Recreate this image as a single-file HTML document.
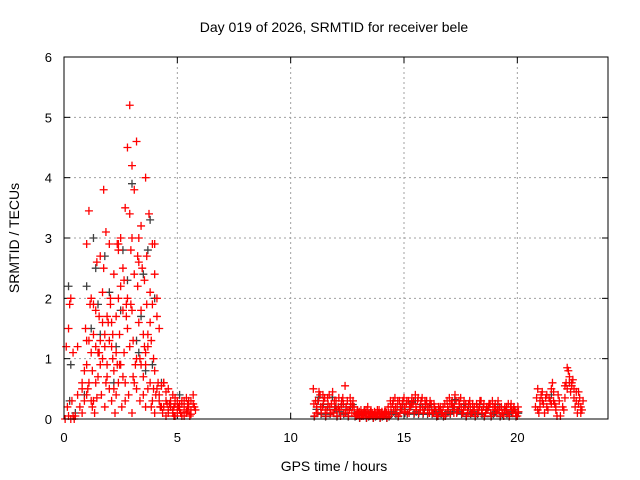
<!DOCTYPE html>
<html><head><meta charset="utf-8"><style>
html,body{margin:0;padding:0;background:#fff}
svg{display:block;font-family:"Liberation Sans",sans-serif}
</style></head><body>
<svg id="chart" width="640" height="480" viewBox="0 0 640 480">
<text x="334" y="32" text-anchor="middle" font-size="14">Day 019 of 2026, SRMTID for receiver bele</text>
<text x="334" y="471" text-anchor="middle" font-size="14">GPS time / hours</text>
<text transform="translate(19,238) rotate(-90)" text-anchor="middle" font-size="14">SRMTID / TECUs</text>
<g id="grid"></g>
<g id="ticks"></g>
<g id="blackPts"></g>
<g id="redPts"></g>
<rect x="64" y="57" width="544" height="362" fill="none" stroke="#000" stroke-width="1"/>
</svg>
<script>
const xTicks=[0,5,10,15,20];
const yTicks=[0,1,2,3,4,5,6];
const redEarlyT=[0.1,0.15,0.2,0.25,0.3,0.35,0.4,0.5,0.6,0.7,0.8,0.9,0.95,1.0,1.05,1.1,1.15,1.2,1.25,1.3,1.35,1.4,1.45,1.5,1.55,1.6,1.65,1.7,1.75,1.8,1.85,1.9,1.95,2.0,2.05,2.1,2.15,2.2,2.25,2.3,2.35,2.4,2.45,2.5,2.55,2.6,2.65,2.7,2.75,2.8,2.85,2.9,2.95,3.0,3.05,3.1,3.15,3.2,3.25,3.3,3.35,3.4,3.45,3.5,3.55,3.6,3.65,3.7,3.75,3.8,3.85,3.9,3.95,4.0,4.05,4.1,4.15,4.2,4.3,4.4,4.5,4.6,4.7,4.8,4.9,5.0,5.1,5.2,5.3,5.4,5.5,5.6,5.7,5.8,
0.2,0.4,0.6,0.8,1.0,1.2,1.4,1.6,1.8,2.0,2.2,2.4,2.6,2.8,3.0,3.2,3.4,3.6,3.8,4.0,4.2,4.4,4.6,4.8,5.0,5.2,5.4,5.6,1.3,1.7,2.1,2.5,2.9,3.3,3.7,4.1,2.3,2.7,3.1,3.5,3.9,4.5,4.9,5.3,0.05,0.3,0.45,4.25,4.35,4.65,4.85,5.05,5.15,5.45,5.55,5.75,1.1,1.9,2.4,3.0,3.6,4.0];
const redEarlyV=[1.2,0.2,1.5,1.9,2.0,0.3,1.1,0.05,0.4,0.2,0.6,0.3,1.5,2.9,0.5,3.45,1.9,2.0,0.8,1.4,0.1,1.2,2.6,0.7,1.7,1.3,0.4,2.1,3.8,1.2,3.1,0.9,1.6,0.5,2.0,0.3,1.0,2.4,0.1,1.7,2.9,0.6,1.4,3.0,0.2,2.5,1.1,3.5,1.9,4.5,0.4,5.2,2.8,4.2,1.3,3.8,0.9,4.6,2.2,3.0,0.3,1.8,2.5,0.7,1.2,4.0,2.7,0.5,3.4,1.6,0.2,2.9,1.0,2.4,0.4,1.7,0.6,0.3,0.55,0.2,0.45,0.1,0.3,0.15,0.35,0.1,0.25,0.05,0.3,0.12,0.2,0.08,0.4,0.15,
0.05,0.05,1.2,0.1,0.9,0.3,0.6,2.7,0.2,1.3,0.8,2.0,0.7,1.5,0.1,1.0,3.2,0.9,2.1,0.8,1.5,0.6,0.5,0.4,0.3,0.25,0.35,0.3,1.9,1.0,1.6,2.2,3.4,2.6,1.4,2.0,0.4,0.3,0.6,0.4,0.3,0.05,0.05,0.05,0.0,0.0,0.0,0.2,0.1,0.25,0.05,0.2,0.1,0.15,0.05,0.2,0.6,1.7,2.9,3.0,1.1,2.9];
const redExtraT=[0.9,1.0,1.1,1.2,1.3,1.4,1.5,1.6,1.7,1.8,1.9,2.0,2.1,2.2,2.3,2.4,2.5,2.6,2.7,2.8,2.9,3.0,3.1,3.2,3.3,3.4,3.5,3.6,3.7,3.8,3.9,4.0,4.1,4.2,4.3,4.4,4.5,4.6,4.7,4.8,4.9,5.0,5.1,5.2,5.3,5.4,5.5,5.6,5.7,1.25,1.55,1.85,2.15,2.45,2.75,3.05,3.35,3.65,3.95,4.25,4.55,4.85,5.15,5.45,0.8,1.0,1.45,1.75,2.05,2.35,2.65,2.95,3.25,3.55,3.85];
const redExtraV=[0.8,0.4,1.3,1.1,0.3,1.8,1.1,0.9,1.6,1.4,0.7,2.9,1.2,0.5,1.1,2.8,0.9,1.8,0.6,2.0,1.2,1.8,2.4,0.5,1.6,0.9,1.4,0.2,1.2,0.6,1.9,0.1,0.5,0.4,0.2,0.6,0.3,0.15,0.2,0.1,0.25,0.2,0.15,0.3,0.2,0.1,0.3,0.15,0.25,0.2,1.1,0.6,1.4,0.9,1.7,0.7,1.0,1.9,0.5,0.2,0.25,0.2,0.1,0.25,0.5,1.3,0.35,2.5,1.9,0.9,2.3,1.9,2.7,2.3,1.3];
const bandT=[11.0,11.1,11.2,11.3,11.4,11.5,11.6,11.7,11.8,11.9,12.0,12.1,12.2,12.3,12.4,12.5,12.6,12.7,12.8,12.9,13.0,13.1,13.2,13.3,13.4,13.5,13.6,13.7,13.8,13.9,14.0,14.1,14.2,14.3,14.4,14.5,14.6,14.7,14.8,14.9,15.0,15.1,15.2,15.3,15.4,15.5,15.6,15.7,15.8,15.9,16.0,16.1,16.2,16.3,16.4,16.5,16.6,16.7,16.8,16.9,17.0,17.1,17.2,17.3,17.4,17.5,17.6,17.7,17.8,17.9,18.0,18.1,18.2,18.3,18.4,18.5,18.6,18.7,18.8,18.9,19.0,19.1,19.2,19.3,19.4,19.5,19.6,19.7,19.8,19.9,20.0];
const bandV1=[0.5,0.3,0.1,0.4,0.2,0.35,0.15,0.4,0.25,0.1,0.3,0.2,0.05,0.35,0.55,0.3,0.15,0.1,0.2,0.05,0.1,0.15,0.05,0.1,0.2,0.05,0.1,0.12,0.05,0.15,0.1,0.05,0.12,0.2,0.3,0.25,0.35,0.2,0.3,0.15,0.35,0.25,0.3,0.2,0.25,0.4,0.3,0.2,0.35,0.15,0.3,0.2,0.25,0.1,0.15,0.05,0.2,0.1,0.25,0.3,0.35,0.25,0.1,0.3,0.15,0.35,0.1,0.2,0.15,0.3,0.1,0.2,0.25,0.15,0.3,0.2,0.1,0.15,0.25,0.3,0.2,0.1,0.15,0.2,0.05,0.15,0.25,0.2,0.1,0.15,0.05];
const bandV2=[0.05,0.2,0.45,0.1,0.3,0.05,0.25,0.1,0.45,0.2,0.05,0.15,0.3,0.1,0.2,0.05,0.25,0.3,0.05,0.15,0.02,0.08,0.15,0.02,0.05,0.12,0.02,0.05,0.1,0.02,0.05,0.12,0.02,0.05,0.1,0.15,0.1,0.05,0.2,0.3,0.12,0.1,0.2,0.35,0.1,0.15,0.1,0.3,0.1,0.25,0.1,0.3,0.1,0.2,0.05,0.15,0.1,0.05,0.1,0.15,0.1,0.2,0.4,0.15,0.25,0.1,0.3,0.05,0.25,0.1,0.15,0.05,0.1,0.3,0.1,0.05,0.2,0.25,0.05,0.1,0.15,0.3,0.05,0.1,0.2,0.1,0.05,0.15,0.2,0.05,0.12];
const bandV3=[0.25,0.1,0.3,0.2,0.4,0.15,0.35,0.2,0.1,0.3,0.15,0.35,0.2,0.25,0.1,0.15,0.35,0.2,0.1,0.08,0.12,0.05,0.1,0.15,0.08,0.12,0.05,0.1,0.15,0.08,0.12,0.08,0.1,0.1,0.2,0.3,0.2,0.3,0.1,0.25,0.2,0.3,0.1,0.25,0.3,0.2,0.35,0.15,0.2,0.3,0.2,0.1,0.15,0.25,0.1,0.2,0.15,0.2,0.05,0.2,0.25,0.3,0.2,0.1,0.3,0.2,0.15,0.25,0.1,0.2,0.25,0.1,0.2,0.2,0.15,0.25,0.15,0.2,0.1,0.2,0.25,0.15,0.2,0.1,0.15,0.2,0.1,0.25,0.15,0.1,0.2];
const bumpT=[20.8,20.9,21.0,21.1,21.2,21.3,21.4,21.5,21.6,21.7,21.8,21.9,22.0,22.1,22.2,22.3,22.4,22.5,22.6,22.7,22.8,22.9,20.85,20.95,21.05,21.15,21.25,21.35,21.45,21.55,21.65,21.75,21.85,22.05,22.15,22.25,22.35,22.45,22.55,22.65,22.75,22.85,20.9,21.0,21.1,21.3,21.5,21.6,21.7,22.1,22.2,22.3,22.4,22.5,22.6,22.7,22.8];
const bumpV=[0.2,0.5,0.3,0.45,0.1,0.2,0.35,0.5,0.3,0.2,0.4,0.05,0.2,0.55,0.85,0.7,0.6,0.5,0.3,0.45,0.2,0.3,0.35,0.1,0.4,0.25,0.35,0.15,0.3,0.6,0.25,0.05,0.3,0.15,0.6,0.8,0.45,0.65,0.2,0.1,0.35,0.15,0.15,0.2,0.3,0.4,0.25,0.45,0.15,0.35,0.5,0.6,0.55,0.35,0.45,0.25,0.1];
const blackT=[0.2,0.3,0.25,1.0,1.3,1.5,2.0,2.5,3.2,3.5,3.8,4.0,1.2,1.8,2.2,2.8,3.3,3.6,0.5,0.9,1.6,2.6,3.0,3.9,4.3,4.7,5.1,11.2,12.0,13.5,15.5,17.2,19.0,21.5,22.3,1.4,2.3,3.4,3.7];
const blackV=[2.2,0.9,0.3,2.2,3.0,1.9,2.1,1.8,1.3,2.4,3.3,2.0,1.5,2.7,0.6,2.3,1.1,0.8,0.1,0.4,1.4,2.8,3.9,0.9,0.6,0.2,0.4,0.3,0.2,0.1,0.3,0.2,0.1,0.4,0.6,2.5,1.2,1.7,2.8];

const X0=64,X1=608,Y0=419,Y1=57,XMAX=24,YMAX=6;
const xs=t=>X0+(X1-X0)*t/XMAX;
const ys=v=>Y0-(Y0-Y1)*v/YMAX;
const NS='http://www.w3.org/2000/svg';
function mk(tag,parent,attrs){const e=document.createElementNS(NS,tag);for(const k in attrs)e.setAttribute(k,attrs[k]);parent.appendChild(e);return e;}
const grid=document.getElementById('grid'),ticks=document.getElementById('ticks');
xTicks.forEach(t=>{
  const x=xs(t);
  if(t>0){const g=mk('line',grid,{x1:x,x2:x,y1:Y1,y2:Y0,stroke:'#a0a0a0','stroke-dasharray':'2,3'});
  
  }
  mk('line',ticks,{x1:x,x2:x,y1:Y0,y2:Y0-6,stroke:'#000'});
  mk('line',ticks,{x1:x,x2:x,y1:Y1,y2:Y1+6,stroke:'#000'});
  const l=mk('text',ticks,{x:x,y:Y0+23,'text-anchor':'middle','font-size':'13'});
  l.textContent=t;
  
  
});
yTicks.forEach(v=>{
  const y=ys(v);
  if(v>0&&v<YMAX){const g=mk('line',grid,{x1:X0,x2:X1,y1:y,y2:y,stroke:'#a0a0a0','stroke-dasharray':'2,3'});
  
  }
  mk('line',ticks,{x1:X0,x2:X0+6,y1:y,y2:y,stroke:'#000'});
  mk('line',ticks,{x1:X1,x2:X1-6,y1:y,y2:y,stroke:'#000'});
  const l=mk('text',ticks,{x:X0-12,y:y+5,'text-anchor':'end','font-size':'13'});
  l.textContent=v;
  
  
});
function plus(g,t,v,col,name){
  const x=xs(t),y=ys(v);
  const p=mk('path',g,{d:`M${x-4},${y}H${x+4}M${x},${y-4}V${y+4}`,stroke:col,'stroke-width':'1.3',fill:'none'});
  
  
}
const bg=document.getElementById('blackPts'),rg=document.getElementById('redPts');
blackT.forEach((t,i)=>plus(bg,t,blackV[i],'#404040','black-point'));
bandT.forEach((t,i)=>plus(bg,t+0.04,bandV2[i]*0.8,'#404040','black-point'));
redEarlyT.forEach((t,i)=>plus(rg,t,redEarlyV[i],'#ff0000','red-point'));
redExtraT.forEach((t,i)=>plus(rg,t,redExtraV[i],'#ff0000','red-point'));
bandT.forEach((t,i)=>plus(rg,t,bandV1[i],'#ff0000','red-point'));
bandT.forEach((t,i)=>plus(rg,t+0.05,bandV2[i],'#ff0000','red-point'));
bandT.forEach((t,i)=>plus(rg,t+0.025,bandV3[i],'#ff0000','red-point'));
bumpT.forEach((t,i)=>plus(rg,t,bumpV[i],'#ff0000','red-point'));
</script>
</body></html>
